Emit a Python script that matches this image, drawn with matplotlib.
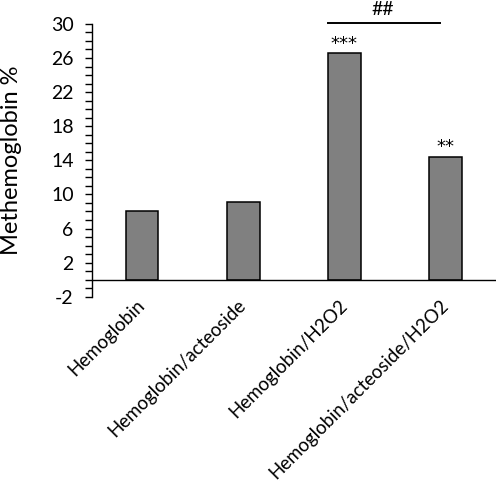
import matplotlib
matplotlib.use('Agg')
import matplotlib.pyplot as plt
import matplotlib.transforms as mtransforms
from matplotlib.ticker import MultipleLocator

groups = ["Hemoglobin", "Hemoglobin/acteoside", "Hemoglobin/H2O2", "Hemoglobin/acteoside/H2O2"]
values = [8.1, 9.1, 26.55, 14.4]
stars = ["", "", "***", "**"]
yticks = [-2, 2, 6, 10, 14, 18, 22, 26, 30]

plt.rcParams['font.family'] = ['Lato', 'DejaVu Sans']
plt.rcParams['axes.unicode_minus'] = False

fig = plt.figure(figsize=(4.96, 4.88), dpi=100)
ax = fig.add_axes([0.185, 0.392, 0.815, 0.559])

x = list(range(len(groups)))
ax.bar(x, values, width=0.32, color="#808080", edgecolor="black", linewidth=1.1, zorder=2)

for i, s in enumerate(stars):
    if s:
        ax.text(i, values[i] + 0.05, s, ha="center", va="bottom", fontsize=13,
                family="DejaVu Sans")

# significance bracket between H2O2 groups
ax.plot([1.84, 2.95], [30.1, 30.1], color="black", linewidth=1.4, clip_on=False)
ax.text(2.38, 30.7, "##", ha="center", va="bottom", fontsize=14)

ax.axhline(0, color="black", linewidth=1.0, zorder=3)

ax.set_xlim(-0.5, 3.5)
ax.set_ylim(-2, 30)
ax.set_yticks(yticks)
ax.yaxis.set_minor_locator(MultipleLocator(1))
ax.tick_params(axis="y", which="both", direction="out", length=5, width=1, labelsize=14, pad=8)
ax.tick_params(axis="x", length=0, labelsize=13.4, pad=0)
ax.set_xticks(x)
ax.set_xticklabels(groups, rotation=45, ha="right", rotation_mode="anchor")

# nudge the rotated labels a little left
shift = mtransforms.ScaledTranslation(-6 / 100, 0, fig.dpi_scale_trans)
for lbl in ax.get_xticklabels():
    lbl.set_transform(lbl.get_transform() + shift)

for sp in ["top", "right", "bottom"]:
    ax.spines[sp].set_visible(False)
ax.spines["left"].set_linewidth(1)

ax.set_ylabel("Methemoglobin %", fontsize=17)
ax.yaxis.set_label_coords(-0.172, 0.5)

fig.savefig("out.png", dpi=100)
